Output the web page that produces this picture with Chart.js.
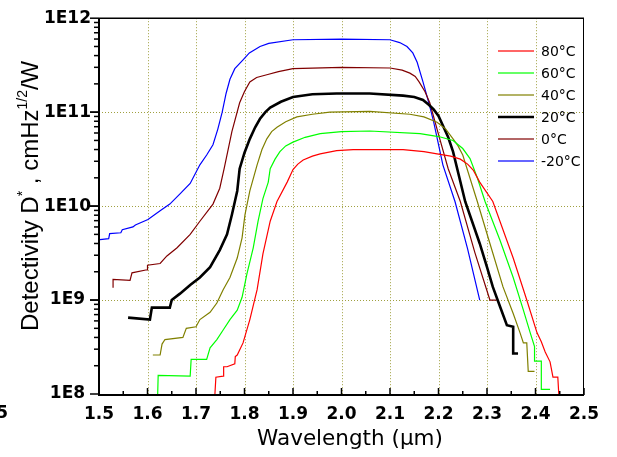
<!DOCTYPE html>
<html>
<head>
<meta charset="utf-8">
<script src="https://cdn.jsdelivr.net/npm/chart.js@4.4.0/dist/chart.umd.min.js"></script>
<style>
  html, body { margin: 0; padding: 0; background: #fff; }
  canvas { display: block; }
</style>
</head>
<body>
<canvas id="chart" width="617" height="457" style="width:617px;height:457px"></canvas>
<script>
// Detectivity vs wavelength
var seriesLabels = ["80°C", "60°C", "40°C", "20°C", "0°C", "-20°C"];
var seriesColors = ["#ff0000", "#00ff00", "#808000", "#000000", "#800000", "#0000ff"];
var xTicks = [1.5, 1.6, 1.7, 1.8, 1.9, 2.0, 2.1, 2.2, 2.3, 2.4, 2.5];
var yTicks = [1e8, 1e9, 1e10, 1e11, 1e12];

// 80°C
var wl80 = [1.739, 1.741, 1.756, 1.757, 1.764, 1.78, 1.781, 1.785, 1.797, 1.811, 1.826, 1.838, 1.853, 1.867, 1.888, 1.90, 1.91, 1.921, 1.94, 1.956, 1.99, 2.024, 2.127, 2.17, 2.197, 2.225, 2.245, 2.26, 2.272, 2.285, 2.312, 2.354, 2.382, 2.403, 2.412, 2.42, 2.43, 2.436, 2.446, 2.448];
var d80 = [1.0e8, 1.51e8, 1.55e8, 1.95e8, 1.95e8, 2.1e8, 2.5e8, 2.6e8, 3.5e8, 6.2e8, 1.29e9, 3.1e9, 6.9e9, 1.12e10, 1.8e10, 2.45e10, 2.8e10, 3.1e10, 3.4e10, 3.6e10, 3.9e10, 4.0e10, 4.0e10, 3.8e10, 3.6e10, 3.4e10, 3.16e10, 2.8e10, 2.4e10, 1.8e10, 1.12e10, 2.8e9, 1.0e9, 4.5e8, 3.6e8, 2.8e8, 2.2e8, 1.51e8, 1.51e8, 1.0e8];

// 60°C
var wl60 = [1.621, 1.622, 1.688, 1.69, 1.722, 1.729, 1.743, 1.756, 1.77, 1.785, 1.795, 1.805, 1.818, 1.828, 1.838, 1.849, 1.853, 1.863, 1.873, 1.885, 1.90, 1.925, 1.956, 2.0, 2.058, 2.162, 2.2, 2.23, 2.25, 2.265, 2.28, 2.296, 2.327, 2.354, 2.375, 2.389, 2.398, 2.398, 2.412, 2.412, 2.43];
var d60 = [1.0e8, 1.58e8, 1.55e8, 2.34e8, 2.34e8, 3.1e8, 3.8e8, 4.8e8, 6.2e8, 7.8e8, 1.07e9, 1.9e9, 3.6e9, 6.9e9, 1.2e10, 1.8e10, 2.5e10, 3.16e10, 3.8e10, 4.37e10, 4.8e10, 5.4e10, 5.9e10, 6.2e10, 6.3e10, 5.9e10, 5.5e10, 5.0e10, 4.1e10, 3.2e10, 2.0e10, 1.12e10, 4.3e9, 1.74e9, 7.8e8, 4.5e8, 3.2e8, 2.24e8, 2.24e8, 1.12e8, 1.12e8];

// 40°C
var wl40 = [1.611, 1.626, 1.63, 1.636, 1.673, 1.68, 1.70, 1.708, 1.729, 1.743, 1.756, 1.77, 1.785, 1.795, 1.801, 1.811, 1.826, 1.836, 1.846, 1.856, 1.867, 1.885, 1.908, 1.94, 1.976, 2.058, 2.141, 2.17, 2.197, 2.215, 2.23, 2.24, 2.25, 2.28, 2.306, 2.333, 2.354, 2.368, 2.375, 2.382, 2.385, 2.398];
var d40 = [2.6e8, 2.6e8, 3.4e8, 3.8e8, 4.0e8, 5.0e8, 5.2e8, 6.2e8, 7.4e8, 9.3e8, 1.29e9, 1.74e9, 2.8e9, 4.6e9, 8.1e9, 1.45e10, 2.75e10, 4.0e10, 5.2e10, 6.2e10, 6.9e10, 7.9e10, 8.9e10, 9.5e10, 1.0e11, 1.02e11, 9.5e10, 8.9e10, 7.8e10, 6.6e10, 5.2e10, 4.4e10, 3.5e10, 1.12e10, 4.0e9, 1.38e9, 7.2e8, 4.5e8, 3.5e8, 3.5e8, 1.74e8, 1.74e8];

// 20°C
var wl20 = [1.56, 1.605, 1.609, 1.646, 1.65, 1.667, 1.688, 1.708, 1.729, 1.749, 1.764, 1.774, 1.785, 1.79, 1.80, 1.811, 1.822, 1.832, 1.843, 1.853, 1.875, 1.90, 1.94, 1.99, 2.058, 2.127, 2.15, 2.168, 2.18, 2.19, 2.2, 2.209, 2.22, 2.23, 2.255, 2.285, 2.30, 2.312, 2.327, 2.341, 2.354, 2.354, 2.364];
var d20 = [6.5e8, 6.2e8, 8.3e8, 8.3e8, 1.0e9, 1.17e9, 1.45e9, 1.74e9, 2.24e9, 3.4e9, 5.0e9, 8.1e9, 1.45e10, 2.5e10, 3.7e10, 5.2e10, 6.9e10, 8.5e10, 1.0e11, 1.12e11, 1.29e11, 1.45e11, 1.55e11, 1.58e11, 1.58e11, 1.5e11, 1.45e11, 1.35e11, 1.2e11, 1.07e11, 9.1e10, 7.2e10, 5.4e10, 3.8e10, 1.12e10, 4.0e9, 2.24e9, 1.38e9, 8.5e8, 5.4e8, 5.2e8, 2.7e8, 2.7e8];

// 0°C
var wl0 = [1.529, 1.529, 1.564, 1.568, 1.599, 1.60, 1.626, 1.64, 1.661, 1.688, 1.708, 1.735, 1.749, 1.758, 1.774, 1.79, 1.80, 1.811, 1.825, 1.846, 1.87, 1.90, 2.0, 2.10, 2.125, 2.141, 2.152, 2.16, 2.172, 2.182, 2.20, 2.22, 2.245, 2.275, 2.306, 2.32];
var d0 = [1.35e9, 1.66e9, 1.62e9, 1.95e9, 2.1e9, 2.35e9, 2.45e9, 2.95e9, 3.6e9, 5.0e9, 6.9e9, 1.05e10, 1.55e10, 2.5e10, 6.2e10, 1.26e11, 1.66e11, 2.1e11, 2.34e11, 2.5e11, 2.7e11, 2.9e11, 3.0e11, 2.95e11, 2.8e11, 2.6e11, 2.4e11, 2.1e11, 1.66e11, 1.26e11, 5.8e10, 2.5e10, 1.12e10, 3.2e9, 1.0e9, 1.0e9];

// -20°C
var wlm20 = [1.502, 1.52, 1.522, 1.545, 1.548, 1.57, 1.575, 1.601, 1.626, 1.646, 1.667, 1.688, 1.708, 1.722, 1.735, 1.745, 1.754, 1.762, 1.77, 1.78, 1.797, 1.81, 1.832, 1.85, 1.90, 2.0, 2.10, 2.12, 2.135, 2.147, 2.156, 2.168, 2.18, 2.19, 2.209, 2.234, 2.26, 2.285];
var dm20 = [4.4e9, 4.5e9, 5.1e9, 5.2e9, 5.6e9, 6.0e9, 6.3e9, 7.2e9, 8.9e9, 1.05e10, 1.35e10, 1.74e10, 2.75e10, 3.5e10, 4.5e10, 6.6e10, 1.0e11, 1.58e11, 2.24e11, 2.9e11, 3.6e11, 4.27e11, 5.0e11, 5.4e11, 5.9e11, 6.0e11, 5.9e11, 5.5e11, 5.0e11, 4.27e11, 3.4e11, 2.1e11, 1.26e11, 7.9e10, 2.75e10, 1.12e10, 3.5e9, 1.0e9];

var allX = [wl80, wl60, wl40, wl20, wl0, wlm20];
var allY = [d80, d60, d40, d20, d0, dm20];

function pts(xs, ys) {
    return xs.map(function (x, i) { return { x: x, y: ys[i] }; });
}

var datasets = seriesLabels.map(function (lab, i) {
    return {
        label: lab,
        data: pts(allX[i], allY[i]),
        borderColor: seriesColors[i],
        borderWidth: i === 3 ? 2.6 : 1.2,
        pointRadius: 0,
        tension: 0,
        fill: false
    };
});

var tickFont = { family: "DejaVu Sans", size: 17, weight: "bold" };

// grid, axes, ticks, legend and titles drawn by hand
var frame = {
    id: "frame",
    beforeDatasetsDraw: function (chart) {
        var ctx = chart.ctx, a = chart.chartArea;
        var xs = chart.scales.x, ys = chart.scales.y;
        ctx.save();
        ctx.strokeStyle = "#a0a040";
        ctx.lineWidth = 1;
        ctx.setLineDash([1, 2]);
        xTicks.slice(1, -1).forEach(function (v) {
            var px = Math.round(xs.getPixelForValue(v)) + 0.5;
            ctx.beginPath(); ctx.moveTo(px, a.top); ctx.lineTo(px, a.bottom); ctx.stroke();
        });
        yTicks.slice(1, -1).forEach(function (v) {
            var py = Math.round(ys.getPixelForValue(v)) + 0.5;
            ctx.beginPath(); ctx.moveTo(a.left, py); ctx.lineTo(a.right, py); ctx.stroke();
        });
        ctx.restore();
    },
    afterDatasetsDraw: function (chart) {
        var ctx = chart.ctx, a = chart.chartArea;
        var xs = chart.scales.x, ys = chart.scales.y;
        ctx.save();
        ctx.strokeStyle = "#000";
        // top and right frame
        ctx.lineWidth = 1.5;
        ctx.beginPath(); ctx.moveTo(a.left, a.top); ctx.lineTo(a.right, a.top); ctx.stroke();
        ctx.lineWidth = 1;
        ctx.beginPath(); ctx.moveTo(a.right - 0.5, a.top); ctx.lineTo(a.right - 0.5, a.bottom); ctx.stroke();
        // left and bottom axes
        ctx.lineWidth = 2;
        ctx.beginPath(); ctx.moveTo(a.left, a.top); ctx.lineTo(a.left, a.bottom + 1); ctx.lineTo(a.right, a.bottom + 1); ctx.stroke();
        // y ticks (outside)
        ctx.lineWidth = 1.5;
        for (var n = 8; n <= 11; n++) {
            for (var k = 1; k <= 10; k++) {
                var py = ys.getPixelForValue(k * Math.pow(10, n));
                var len = (k === 1 || k === 10) ? 9 : 5;
                ctx.beginPath(); ctx.moveTo(a.left - len, py); ctx.lineTo(a.left, py); ctx.stroke();
            }
        }
        // x ticks (inside)
        for (var i = 0; i <= 20; i++) {
            var px = xs.getPixelForValue(1.5 + i * 0.05);
            var l2 = i % 2 === 0 ? 7 : 4;
            ctx.beginPath(); ctx.moveTo(px, a.bottom + 1); ctx.lineTo(px, a.bottom + 1 - l2); ctx.stroke();
        }
        ctx.restore();
    },
    afterDraw: function (chart) {
        var ctx = chart.ctx;
        ctx.save();
        // legend
        ctx.font = "14px 'DejaVu Sans'";
        ctx.textBaseline = "middle";
        ctx.textAlign = "left";
        seriesLabels.forEach(function (lab, i) {
            var y = 51 + i * 22;
            ctx.globalAlpha = i === 3 ? 1 : 0.6;
            ctx.strokeStyle = seriesColors[i];
            ctx.lineWidth = i === 3 ? 2.5 : 2;
            ctx.beginPath(); ctx.moveTo(498, y); ctx.lineTo(534, y); ctx.stroke();
            ctx.globalAlpha = 1;
            ctx.fillStyle = "#000";
            ctx.fillText(lab, 541, y + 1);
        });
        // x title
        ctx.font = "21.5px 'DejaVu Sans'";
        ctx.textAlign = "center";
        ctx.textBaseline = "alphabetic";
        ctx.fillText("Wavelength (\u03bcm)", 350, 445);
        // clipped label at far left
        ctx.font = "bold 17px 'DejaVu Sans'";
        ctx.textAlign = "right";
        ctx.textBaseline = "middle";
        ctx.fillText("5", 8, 414);
        // y title, rotated, with superscripts
        ctx.translate(38, 331);
        ctx.rotate(-Math.PI / 2);
        ctx.textAlign = "left";
        ctx.textBaseline = "alphabetic";
        var big = "24px 'Liberation Sans'", small = "14px 'Liberation Sans'";
        var parts = [["Detectivity D", big, 0], ["*", small, -11], [" , cmHz", big, 0], ["1/2", small, -11], ["/W", big, 0]];
        var cx = 0;
        parts.forEach(function (p) {
            ctx.font = p[1];
            ctx.fillText(p[0], cx, p[2]);
            cx += ctx.measureText(p[0]).width;
        });
        ctx.restore();
    }
};

new Chart(document.getElementById("chart"), {
    type: "line",
    data: { datasets: datasets },
    options: {
        responsive: false,
        animation: false,
        devicePixelRatio: 1,
        layout: { padding: { left: 0, top: 15, right: 33, bottom: 0 } },
        plugins: { legend: { display: false }, tooltip: { enabled: false } },
        scales: {
            x: {
                type: "linear",
                min: 1.5,
                max: 2.5,
                grid: { display: false, drawTicks: false },
                border: { display: false },
                ticks: {
                    stepSize: 0.1,
                    padding: 10,
                    color: "#000",
                    font: tickFont,
                    autoSkip: false,
                    maxRotation: 0,
                    callback: function (v) { return Number(v).toFixed(1); }
                },
                afterFit: function (s) { s.height = 63; }
            },
            y: {
                type: "logarithmic",
                min: 1e8,
                max: 1e12,
                grid: { display: false, drawTicks: false },
                border: { display: false },
                ticks: {
                    padding: 8,
                    crossAlign: "center",
                    color: "#000",
                    font: tickFont,
                    autoSkip: false,
                    callback: function (v) {
                        var e = Math.log10(v);
                        return yTicks.indexOf(v) >= 0 ? "1E" + Math.round(e) : "";
                    }
                },
                afterFit: function (s) { s.width = 99; }
            }
        }
    },
    plugins: [frame]
});
</script>
</body>
</html>
